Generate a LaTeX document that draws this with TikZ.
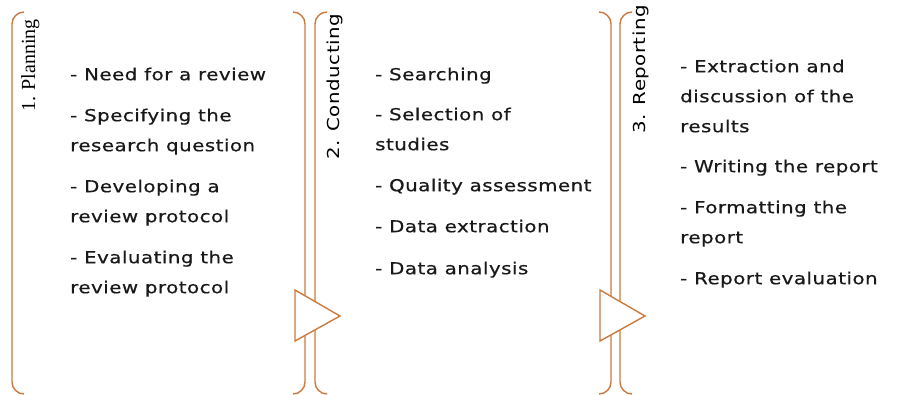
\documentclass[tikz,border=0pt]{standalone}
\usepackage{fontspec}
\newfontfamily\listfont{DejaVu Sans}[FakeStretch=1.2, LetterSpace=3, FakeBold=0.6]
\newfontfamily\phasefont{DejaVu Sans}[FakeStretch=1.2, LetterSpace=3]
\newfontfamily\serifont{Liberation Serif}
\definecolor{frame}{RGB}{204,122,62}

\begin{document}
\begin{tikzpicture}[x=1pt, y=-1pt,
    bracket/.style={draw=frame, line width=1.4pt, rounded corners=12pt},
    turn/.style={draw=frame, line width=1.4pt, fill=white, line join=miter},
    phase/.style={rotate=90, anchor=base west, inner sep=0pt, font=\phasefont\fontsize{16.5}{22}\selectfont},
    steps/.style={anchor=north west, align=left, inner sep=0pt, text=black!90, font=\listfont\fontsize{16.5}{30}\selectfont}]
    \useasboundingbox (0,0) rectangle (902,395);
    % brackets of the three phases
    \draw[bracket] (24,12) -- (12,12) -- (12,394) -- (24,394);
    \draw[bracket] (293,12) -- (305,12) -- (305,394) -- (293,394);
    \draw[bracket] (327,12) -- (315,12) -- (315,394) -- (327,394);
    \draw[bracket] (599,12) -- (611,12) -- (611,394) -- (599,394);
    \draw[bracket] (632,12) -- (620,12) -- (620,394) -- (632,394);
    % turns between phases
    \filldraw[turn] (295,290) -- (340,316) -- (295,341) -- cycle;
    \filldraw[turn] (600,290) -- (645,316) -- (600,341) -- cycle;
    % phase names
    \node[phase, font=\serifont\fontsize{20}{24}\selectfont] (plan) at (35,112) {1. Planning};
    \node[phase] (cond) at (339,160) {2. Conducting};
    \node[phase] (rep) at (645,134) {3. Reporting};
    % steps
    \node[steps] (planlist) at (70,67.5) {- Need for a review\\[11pt]
        - Specifying the\\research question\\[11pt]
        - Developing a\\review protocol\\[11pt]
        - Evaluating the\\review protocol};
    \node[steps] (condlist) at (375,67.5) {- Searching\\[10pt]
        - Selection of\\studies\\[11pt]
        - Quality assessment\\[11pt]
        - Data extraction\\[12pt]
        - Data analysis};
    \node[steps] (replist) at (680,59.5) {- Extraction and\\discussion of the\\results\\[10pt]
        - Writing the report\\[11pt]
        - Formatting the\\report\\[11pt]
        - Report evaluation};
\end{tikzpicture}
\end{document}
